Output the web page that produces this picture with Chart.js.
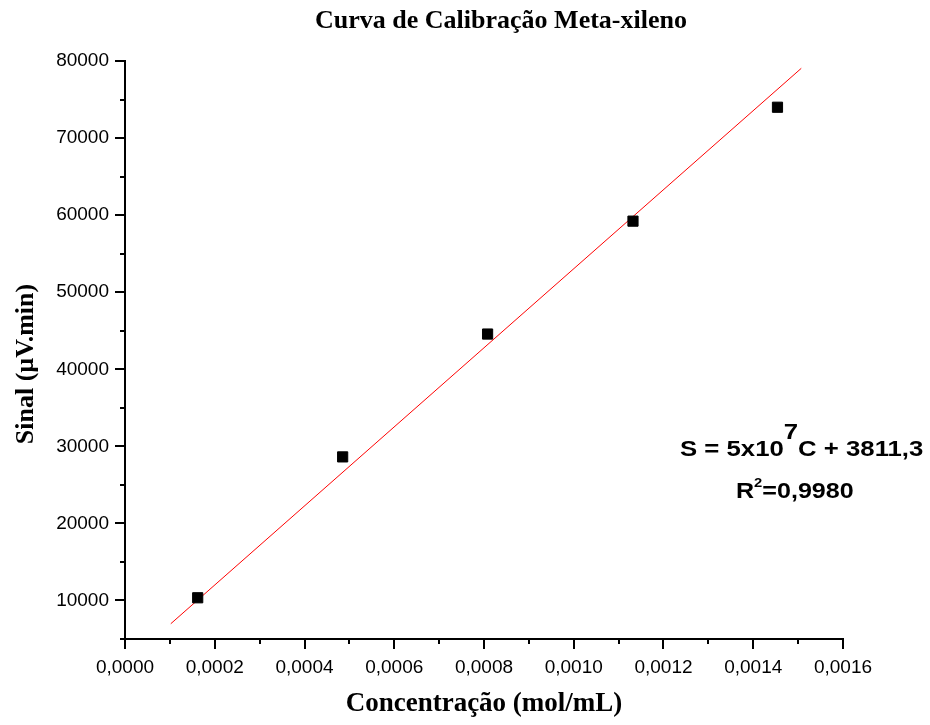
<!DOCTYPE html>
<html><head><meta charset="utf-8">
<script src="https://cdn.jsdelivr.net/npm/chart.js@4.4.0/dist/chart.umd.min.js"></script>
<style>html,body{margin:0;padding:0;background:#fff}#wrap{width:930px;height:725px}</style>
</head><body><div id="wrap"><canvas id="c" width="930" height="725"></canvas></div>
<script>
const concentrations = [0.000162, 0.000485, 0.000808, 0.001132, 0.001454];
const signals = [10350, 28630, 44570, 59220, 74000];
const fitX = [0.000102, 0.001507];
const fitY = [6980, 79050];
const xTicks = [0, 0.0002, 0.0004, 0.0006, 0.0008, 0.0010, 0.0012, 0.0014, 0.0016];
const xMinor = [0.0001, 0.0003, 0.0005, 0.0007, 0.0009, 0.0011, 0.0013, 0.0015];
const yTicks = [10000, 20000, 30000, 40000, 50000, 60000, 70000, 80000];
const yMinor = [5000, 15000, 25000, 35000, 45000, 55000, 65000, 75000];
const titleText = 'Curva de Calibração Meta-xileno';
const xTitle = 'Concentração (mol/mL)';
const yTitle = 'Sinal (µV.min)';

const textPlugin = {
  id: 'texts',
  afterDraw(chart) {
    const ctx = chart.ctx;
    const xs = chart.scales.x, ys = chart.scales.y;
    ctx.save();
    ctx.strokeStyle = '#000'; ctx.lineWidth = 2;
    ctx.beginPath();
    xMinor.forEach(v => { const p = Math.round(xs.getPixelForValue(v)); ctx.moveTo(p, ys.bottom); ctx.lineTo(p, ys.bottom + 5); });
    yMinor.forEach(v => { const p = Math.round(ys.getPixelForValue(v)); ctx.moveTo(xs.left, p); ctx.lineTo(xs.left - 5, p); });
    ctx.stroke();
    ctx.fillStyle = '#000';
    ctx.textAlign = 'center'; ctx.textBaseline = 'middle';
    ctx.font = 'bold 26px "Liberation Serif", serif';
    ctx.fillText(titleText, 501, 21);
    ctx.font = 'bold 27px "Liberation Serif", serif';
    ctx.fillText(xTitle, 484, 704);
    ctx.save();
    ctx.translate(26, 364); ctx.rotate(-Math.PI / 2);
    ctx.font = 'bold 26px "Liberation Serif", serif';
    ctx.fillText(yTitle, 0, 0);
    ctx.restore();
    // equation (horizontally stretched like the reference)
    const sx = 1.17;
    ctx.save();
    ctx.translate(680, 0); ctx.scale(sx, 1);
    ctx.textAlign = 'left'; ctx.textBaseline = 'alphabetic';
    let x = 0; const yb = 456;
    const seg = (t, f, dy) => { ctx.font = f; ctx.fillText(t, x, yb + dy); x += ctx.measureText(t).width; };
    seg('S = 5x10', 'bold 22px "Liberation Sans", Arial, sans-serif', 0);
    seg('7', 'bold 22px "Liberation Sans", Arial, sans-serif', -17);
    seg('C + 3811,3', 'bold 22px "Liberation Sans", Arial, sans-serif', 0);
    ctx.restore();
    ctx.save();
    ctx.translate(736, 0); ctx.scale(1.14, 1);
    ctx.textAlign = 'left'; ctx.textBaseline = 'alphabetic';
    x = 0; const yb2 = 498;
    ctx.font = 'bold 22px "Liberation Sans", Arial, sans-serif';
    ctx.fillText('R', x, yb2); x += ctx.measureText('R').width;
    ctx.font = 'bold 13px "Liberation Sans", Arial, sans-serif';
    ctx.fillText('2', x, yb2 - 11); x += ctx.measureText('2').width;
    ctx.font = 'bold 22px "Liberation Sans", Arial, sans-serif';
    ctx.fillText('=0,9980', x, yb2);
    ctx.restore();
    ctx.restore();
  }
};

new Chart(document.getElementById('c'), {
  type: 'scatter',
  data: {
    datasets: [
      {
        data: concentrations.map((c, i) => ({ x: c, y: signals[i] })),
        pointStyle: 'rect', pointRadius: 7.2, pointHoverRadius: 7.2,
        backgroundColor: '#000', borderColor: '#000', borderWidth: 1
      },
      {
        type: 'line',
        data: fitX.map((c, i) => ({ x: c, y: fitY[i] })),
        borderColor: '#ff0000', borderWidth: 1, pointRadius: 0, fill: false
      }
    ]
  },
  options: {
    responsive: false, animation: false, devicePixelRatio: 1,
    layout: { padding: { left: 0, top: 61, right: 87, bottom: 0 } },
    plugins: { legend: { display: false }, tooltip: { enabled: false }, title: { display: false } },
    scales: {
      x: {
        type: 'linear', min: 0, max: 0.0016,
        afterBuildTicks: s => { s.ticks = xTicks.map(v => ({ value: v })); },
        afterFit: s => { s.height = 86; },
        ticks: { color: '#000', padding: 7, maxRotation: 0, autoSkip: false,
          font: { family: '"Liberation Sans", Arial, sans-serif', size: 19 },
          callback: v => v.toFixed(4).replace('.', ',') },
        grid: { drawOnChartArea: false, drawTicks: true, tickLength: 10, color: '#000', lineWidth: 2 },
        border: { display: true, color: '#000', width: 2 }
      },
      y: {
        type: 'linear', min: 5000, max: 80000,
        afterBuildTicks: s => { s.ticks = yTicks.map(v => ({ value: v })); },
        afterFit: s => { s.width = 125; },
        ticks: { color: '#000', padding: 6, autoSkip: false,
          font: { family: '"Liberation Sans", Arial, sans-serif', size: 19 },
          callback: v => String(v) },
        grid: { drawOnChartArea: false, drawTicks: true, tickLength: 10, color: '#000', lineWidth: 2 },
        border: { display: true, color: '#000', width: 2 }
      }
    }
  },
  plugins: [textPlugin]
});
</script></body></html>
